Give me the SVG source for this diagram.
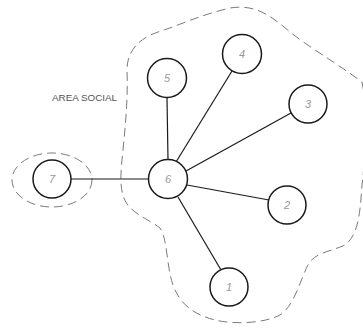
<svg xmlns="http://www.w3.org/2000/svg" width="363" height="328" viewBox="0 0 363 328">
<style>
.bg{fill:#fff}
.node circle{fill:#fff;stroke:#1a1a1a;stroke-width:1.5}
.node text{font-family:"Liberation Sans",Arial,sans-serif;font-size:11px;fill:#999;text-anchor:middle;dominant-baseline:central;font-style:italic}
.dash{fill:none;stroke:#7a7a7a;stroke-width:1;stroke-dasharray:9,5}
.edges line{stroke:#1a1a1a;stroke-width:1.2}
.lbl{font-family:"Liberation Sans",Arial,sans-serif;font-size:9px;fill:#555}
</style>
<rect class="bg" width="363" height="328"/>
<g id="area-social">
<path class="dash" d="M 362,82 C 368,110 366,150 362,185 C 360,215 358,235 345,245 C 330,252 315,252 308,265 C 300,280 295,305 280,315 C 265,323 235,325 215,320 C 195,315 180,305 173,285 C 166,265 168,240 160,228 C 150,220 135,215 127,204 C 118,190 121,170 123,150 C 126,120 128,95 127,70 C 127,50 140,38 158,32 C 180,25 200,15 230,8 C 255,4 270,15 290,32 C 310,48 335,62 362,82 Z"/>
<text class="lbl" x="52" y="101" textLength="65" lengthAdjust="spacingAndGlyphs">AREA SOCIAL</text>
</g>
<g id="area-7">
<ellipse class="dash" cx="52" cy="180" rx="40" ry="27"/>
</g>
<g class="edges" id="connectors">
<line x1="71" y1="179" x2="149" y2="179"/>
<line x1="167" y1="98" x2="168" y2="160"/>
<line x1="176" y1="162" x2="232" y2="71"/>
<line x1="186" y1="171" x2="291" y2="113"/>
<line x1="187" y1="185" x2="269" y2="200"/>
<line x1="178" y1="197" x2="221" y2="270"/>
</g>
<g class="node" id="node-1"><circle cx="229" cy="287" r="19"/><text x="229" y="287">1</text></g>
<g class="node" id="node-2"><circle cx="287" cy="205" r="19"/><text x="287" y="205">2</text></g>
<g class="node" id="node-3"><circle cx="308" cy="104" r="19"/><text x="308" y="104">3</text></g>
<g class="node" id="node-4"><circle cx="242" cy="54" r="19.5"/><text x="242" y="54">4</text></g>
<g class="node" id="node-5"><circle cx="167" cy="78" r="19.5"/><text x="167" y="78">5</text></g>
<g class="node" id="node-6"><circle cx="168" cy="179" r="19.5"/><text x="168" y="179">6</text></g>
<g class="node" id="node-7"><circle cx="52" cy="179" r="19"/><text x="52" y="179">7</text></g>
</svg>
